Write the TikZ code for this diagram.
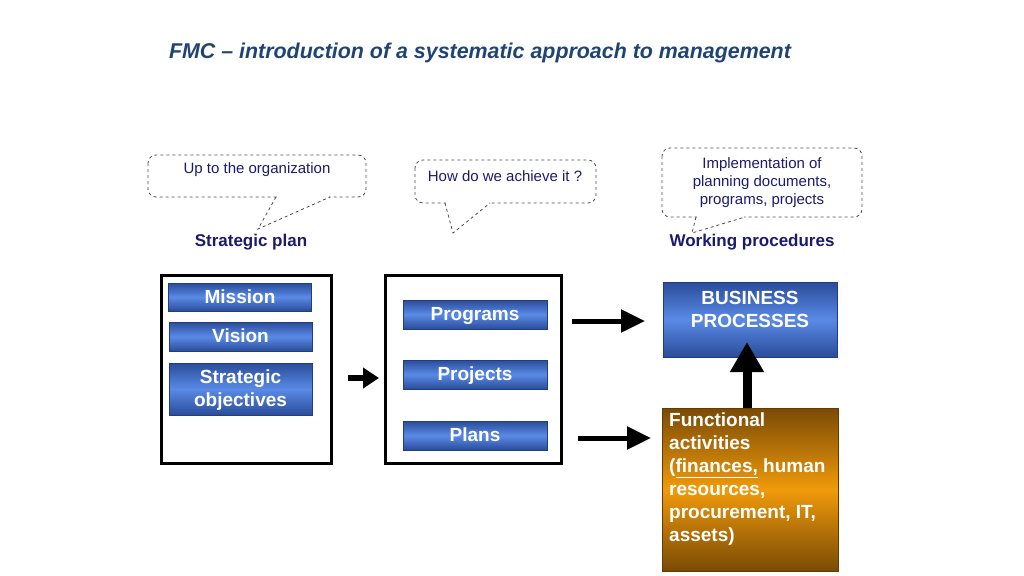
\documentclass[tikz,border=0pt]{standalone}
\usepackage{fontspec}
\setmainfont{Liberation Sans}
\usetikzlibrary{arrows.meta}
\definecolor{navy}{HTML}{1A1A70}
\definecolor{titleblue}{HTML}{1F4474}
\definecolor{bdark}{HTML}{2A4C9A}
\definecolor{blight}{HTML}{5A8AE6}
\definecolor{odark}{HTML}{7A4A05}
\definecolor{olight}{HTML}{F09A0A}
\tikzset{
 bluebox/.style={draw=bdark!80!black, line width=0.6pt, top color=bdark, bottom color=bdark, middle color=blight, text=white, font=\bfseries\fontsize{19}{23}\selectfont, align=center, inner sep=0pt, text height=13pt, text depth=1pt},
 frame/.style={draw=black, line width=3pt},
 callout/.style={draw=black!70, dashed, rounded corners=8pt, line width=0.8pt},
 ctext/.style={text=navy, font=\fontsize{15}{18}\selectfont, align=center},
 heading/.style={text=navy, font=\bfseries\fontsize{17}{20}\selectfont},
 bigarrow/.style={line width=5pt, -{Triangle[length=24pt,width=22pt]}}
}
\begin{document}
\begin{tikzpicture}[x=1pt,y=-1pt]
\useasboundingbox (0,0) rectangle (1024,575);
\node[text=titleblue, font=\bfseries\itshape\fontsize{21.4}{25}\selectfont] (title) at (480,53) {FMC – introduction of a systematic approach to management};

% callouts
\draw[callout] (148,155) rectangle (366,197);
\draw[white, line width=2pt] (277,197) -- (329,197);
\coordinate (t1) at (258,229);
\draw[black!70, dashed, line width=0.8pt] (276,197) -- (t1) -- (330,197);
\node[ctext] (c1) at (257,170) {Up to the organization};

\draw[callout] (415,160) rectangle (596,203);
\draw[white, line width=2pt] (446,203) -- (489,203);
\coordinate (t2) at (453,233);
\draw[black!70, dashed, line width=0.8pt] (445,203) -- (t2) -- (490,203);
\node[ctext] (c2) at (505,176) {How do we achieve it ?};

\draw[callout] (662,148) rectangle (862,217);
\draw[white, line width=2pt] (697,217) -- (744,217);
\coordinate (t3) at (692,233);
\draw[black!70, dashed, line width=0.8pt] (696,217) -- (t3) -- (745,217);
\node[ctext] (c3) at (762,183) {Implementation of\\planning documents,\\programs, projects};

\node[heading] (sp) at (251,242) {Strategic plan};
\node[heading] (wp) at (752,242) {Working procedures};

% frames
\draw[frame] (161,275) rectangle (331,463);
\draw[frame] (385,275) rectangle (561,463);
\coordinate (f2in) at (379,378);

\node[bluebox, minimum width=143pt, minimum height=28pt] (mission) at (240,297) {Mission};
\node[bluebox, minimum width=143pt, minimum height=29pt] (vision) at (240.5,336.5) {Vision};
\node[bluebox, minimum width=143pt, minimum height=52pt, font=\bfseries\fontsize{19}{23}\selectfont, text height=] (so) at (240.5,389) {Strategic\\objectives};
\node[bluebox, minimum width=144pt, minimum height=29pt] (programs) at (475,314.5) {Programs};
\node[bluebox, minimum width=144pt, minimum height=29pt] (projects) at (475,374.5) {Projects};
\node[bluebox, minimum width=144pt, minimum height=29pt] (plans) at (475,435.5) {Plans};

\node[bluebox, minimum width=174pt, minimum height=75pt] (bp) at (750,319.5) {};
\node[text=white, font=\bfseries\fontsize{19}{23}\selectfont, align=center] (bpt) at (750,309) {BUSINESS\\PROCESSES};

\node[draw=odark!80!black, line width=0.6pt, top color=odark, bottom color=odark, middle color=olight, minimum width=176pt, minimum height=163pt, inner sep=0pt] (fa) at (750,489.5) {};
\node[text=white, font=\bfseries\fontsize{19}{23}\selectfont, align=left, anchor=north west, inner sep=0pt] (fat) at (669,413) {Functional\\activities\\(\underline{finances,} human\\resources,\\procurement, IT,\\assets)};

% arrows
\coordinate (a1s) at (348,378);
\coordinate (a2s) at (572,321);
\coordinate (a2e) at (645,321);
\coordinate (a3s) at (578,438);
\coordinate (a3e) at (651,438);
\draw[line width=6pt, -{Triangle[length=16pt,width=20pt]}] (a1s) -- (f2in);
\draw[bigarrow] (a2s) -- (a2e);
\draw[bigarrow] (a3s) -- (a3e);
\draw[line width=9pt, -{Triangle[length=30pt,width=32pt]}] (fa.north -| 747,0) -- (747,342);
\end{tikzpicture}
\end{document}
